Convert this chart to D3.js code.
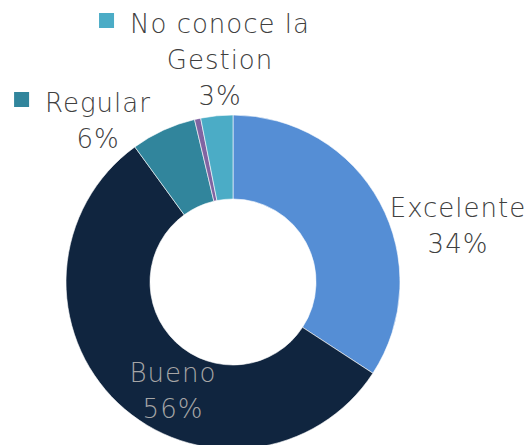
<!DOCTYPE html>
<html>
<head>
<meta charset="utf-8">
<script src="https://cdn.jsdelivr.net/npm/d3@7"></script>
<style>
  body { margin: 0; background: #fff; }
  text { font-family: "DejaVu Sans", sans-serif; }
</style>
</head>
<body>
<svg id="chart"></svg>
<script>
// datos de la encuesta (porcentajes)
const categories = ["Excelente", "Bueno", "Regular", "Malo", "No conoce la Gestion"];
const values = [34.2, 55.8, 6.3, 0.6, 3.1];
const colors = ["#558ED5", "#10253F", "#31859C", "#8064A2", "#4BACC6"];

const width = 532, height = 445;
const cx = 233, cy = 282;
const outerR = 167, innerR = 83;

const svg = d3.select("#chart")
    .attr("width", width)
    .attr("height", height)
    .attr("viewBox", [0, 0, width, height]);

const pie = d3.pie().sort(null).value(d => d.value);
const arc = d3.arc().innerRadius(innerR).outerRadius(outerR);

const data = categories.map((c, i) => ({ name: c, value: values[i], color: colors[i] }));
const arcs = pie(data);

const g = svg.append("g").attr("transform", "translate(" + cx + "," + cy + ")");

g.selectAll("path")
    .data(arcs)
    .join("path")
    .attr("d", arc)
    .attr("fill", d => d.data.color)
    .attr("stroke", "#fff")
    .attr("stroke-width", 0.6);

// posiciones de las etiquetas (a mano, como en la imagen)
const labels = [
    { i: 0, lines: ["Excelente", "34%"], x: 458, y: 217, fill: "#404040" },
    { i: 1, lines: ["Bueno", "56%"], x: 173, y: 382, fill: "#A6A6A6" },
    { i: 2, lines: ["Regular", "6%"], x: 98, y: 112, fill: "#404040", key: true },
    { i: 4, lines: ["No conoce la", "Gestion", "3%"], x: 220, y: 33, fill: "#404040", key: true }
];
const lineH = 36;

labels.forEach(l => {
    const pct = Math.round(values[l.i]) + "%";
    const lines = l.lines.slice(0, -1).concat([pct]);
    const t = svg.append("text")
        .attr("text-anchor", "middle")
        .attr("font-size", 26)
        .attr("font-weight", 200)
        .attr("letter-spacing", 1)
        .attr("fill", l.fill);
    lines.forEach((s, k) => {
        t.append("tspan")
            .attr("x", l.x)
            .attr("y", l.y + k * lineH)
            .text(s);
    });
    if (l.key) {
        const bb = t.select("tspan").node().getBBox();
        svg.append("rect")
            .attr("x", bb.x - 31)
            .attr("y", l.y - 20)
            .attr("width", 15)
            .attr("height", 15)
            .attr("fill", colors[l.i]);
    }
});
</script>
</body>
</html>
